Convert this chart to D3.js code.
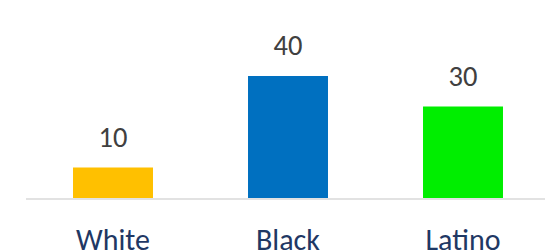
<!DOCTYPE html>
<html>
<head>
<meta charset="utf-8">
<script src="https://cdn.jsdelivr.net/npm/d3@7"></script>
<style>
  body { margin: 0; background: #fff; overflow: hidden; }
  text { font-family: Carlito, Lato, "Open Sans", sans-serif; }
</style>
</head>
<body>
<svg width="545" height="252"></svg>
<script>
var categories = ["White", "Black", "Latino"];
var values = [10, 40, 30];
var colors = ["#FFC000", "#0070C0", "#00EE00"];

var svg = d3.select("svg");

var x = d3.scaleBand()
    .domain(categories)
    .range([25.5, 550.5])
    .paddingInner(0.543)
    .paddingOuter(0.2715);

var y = d3.scaleLinear()
    .domain([0, 40])
    .range([198, 76]);

// baseline
svg.append("line")
    .attr("x1", 26).attr("x2", 545)
    .attr("y1", 199).attr("y2", 199)
    .attr("stroke", "#d9d9d9")
    .attr("stroke-width", 1.5);

svg.selectAll("rect.bar")
    .data(values)
    .enter().append("rect")
      .attr("class", "bar")
      .attr("x", function(d, i) { return x(categories[i]); })
      .attr("y", function(d) { return y(d); })
      .attr("width", x.bandwidth())
      .attr("height", function(d) { return y(0) - y(d); })
      .attr("fill", function(d, i) { return colors[i]; });

// value labels
svg.selectAll("text.val")
    .data(values)
    .enter().append("text")
      .attr("class", "val")
      .attr("x", function(d, i) { return x(categories[i]) + x.bandwidth() / 2; })
      .attr("y", function(d) { return y(d) - 21; })
      .attr("text-anchor", "middle")
      .attr("font-size", 28.5)
      .attr("fill", "#404040")
      .text(function(d) { return d; });

// category labels
svg.selectAll("text.cat")
    .data(categories)
    .enter().append("text")
      .attr("class", "cat")
      .attr("x", function(d) { return x(d) + x.bandwidth() / 2; })
      .attr("y", 249.5)
      .attr("text-anchor", "middle")
      .attr("font-size", 30)
      .attr("fill", "#1F3864")
      .text(function(d) { return d; });
</script>
</body>
</html>
